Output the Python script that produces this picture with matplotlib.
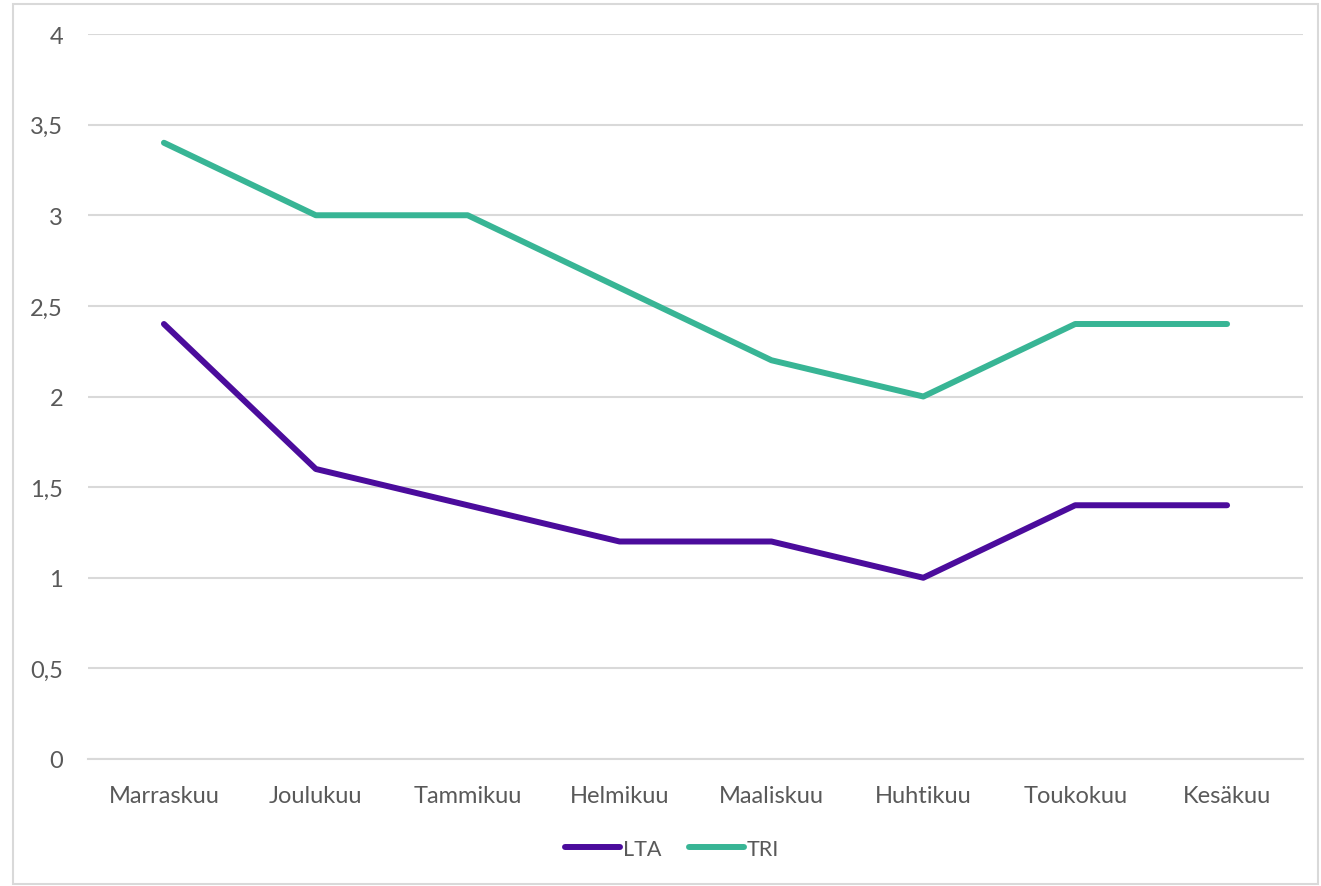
import matplotlib
matplotlib.use("Agg")
import matplotlib.pyplot as plt
from matplotlib.patches import Rectangle
from matplotlib.ticker import FuncFormatter

categories = ["Marraskuu", "Joulukuu", "Tammikuu", "Helmikuu", "Maaliskuu", "Huhtikuu", "Toukokuu", "Kesäkuu"]
lta = [2.4, 1.6, 1.4, 1.2, 1.2, 1.0, 1.4, 1.4]
tri = [3.4, 3.0, 3.0, 2.6, 2.2, 2.0, 2.4, 2.4]
yticks = [0, 0.5, 1, 1.5, 2, 2.5, 3, 3.5, 4]

plt.rcParams['font.family'] = ['Lato', 'DejaVu Sans']

W, H = 1321, 887
fig = plt.figure(figsize=(W/100, H/100), dpi=100)
fig.patches.append(Rectangle((13/W, 2/H), (1318-13)/W, (882-2)/H, transform=fig.transFigure,
                             fill=False, edgecolor="#D9D9D9", linewidth=1.5))
ax = fig.add_axes([88/W, 1-760/H, (1303-88)/W, (760-35)/H])

x = list(range(len(categories)))
ax.plot(x, lta, color="#4B0C9C", linewidth=4.3, solid_capstyle="round", solid_joinstyle="round", label="LTA", zorder=3)
ax.plot(x, tri, color="#38B595", linewidth=4.3, solid_capstyle="round", solid_joinstyle="round", label="TRI", zorder=3)

ax.set_xlim(-0.5, len(categories)-0.5)
ax.set_ylim(0, 4)
ax.set_yticks(yticks)
ax.yaxis.set_major_formatter(FuncFormatter(lambda v, p: (f"{v:g}").replace(".", ",")))
ax.set_xticks(x)
ax.set_xticklabels(categories)
ax.grid(axis="y", color="#D9D9D9", linewidth=1.5)
ax.set_axisbelow(True)
for s in ax.spines.values():
    s.set_visible(False)
ax.spines["bottom"].set_visible(True)
ax.spines["bottom"].set_color("#D9D9D9")
ax.spines["bottom"].set_linewidth(1.5)
ax.tick_params(axis="both", length=0, colors="#595959", labelsize=17)
ax.tick_params(axis="y", pad=18)
ax.tick_params(axis="x", pad=18.5)

leg = fig.legend(loc="center", bbox_to_anchor=(672/W, 1-850/H), ncol=2, frameon=False,
                 fontsize=15.5, handlelength=2.55, handletextpad=0.12, columnspacing=1.3)
for t in leg.get_texts():
    t.set_color("#595959")

fig.savefig("out.png", dpi=100)
